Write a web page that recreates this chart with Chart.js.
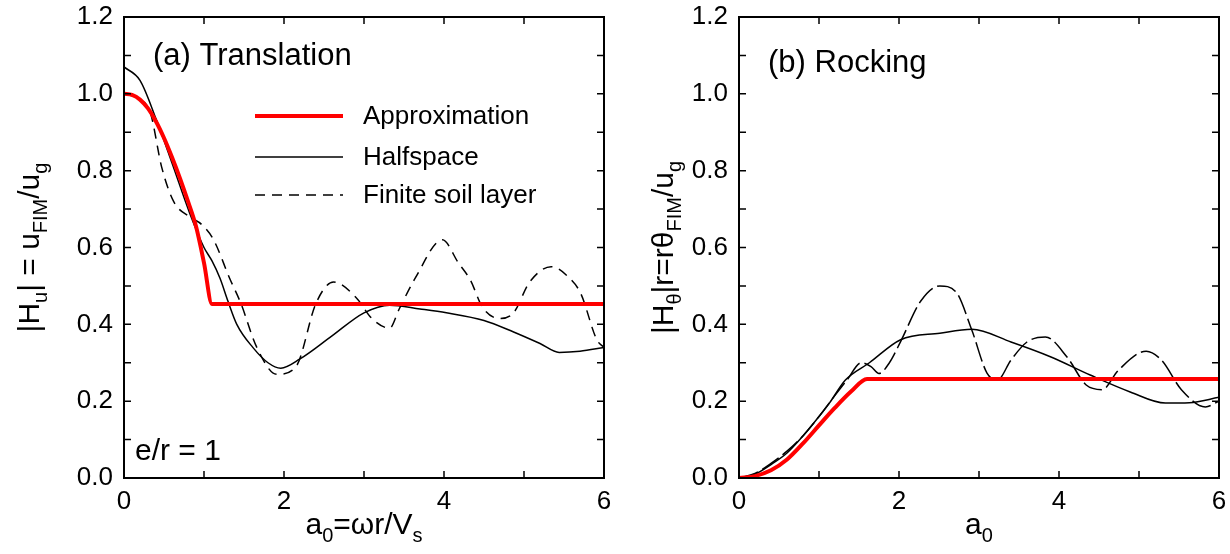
<!DOCTYPE html>
<html lang="en">
  <head>
    <meta charset="UTF-8" />
    <title>Foundation input motion transfer functions</title>
    <script src="https://cdn.jsdelivr.net/npm/chart.js"></script>
    <style>
      body { margin: 0; background: #fff; }
      .panel { position: absolute; top: 0; width: 615px; height: 554px; }
    </style>
  </head>
  <body>
    <div class="panel" style="left:0"><canvas id="transChart" width="615" height="554"></canvas></div>
    <div class="panel" style="left:615px"><canvas id="rockChart" width="615" height="554"></canvas></div>

    <script>
      // -------- data -------- //
      const xTicks = [0, 2, 4, 6];
      const yTicks = [0, 0.2, 0.4, 0.6, 0.8, 1.0, 1.2];
      const seriesNames = ["Approximation", "Halfspace", "Finite soil layer"];

      // (a) translation
      const transApproxX = [0, 0.1, 0.2, 0.3, 0.4, 0.5, 0.6, 0.7, 0.8, 0.9, 1.0, 1.1, 6];
      const transApproxY = [1.0, 0.997, 0.985, 0.962, 0.928, 0.885, 0.835, 0.78, 0.72, 0.655, 0.56, 0.453, 0.453];
      const transHalfX = [0, 0.2, 0.4, 0.6, 0.82, 1.0, 1.1, 1.2, 1.3, 1.41, 1.61, 1.8, 1.96, 2.2, 2.6, 3.0, 3.32, 3.7, 4.03, 4.5, 4.87, 5.2, 5.44, 5.7, 6];
      const transHalfY = [1.07, 1.035, 0.935, 0.82, 0.69, 0.6, 0.565, 0.52, 0.46, 0.4, 0.34, 0.3, 0.286, 0.31, 0.37, 0.43, 0.45, 0.44, 0.43, 0.41, 0.38, 0.35, 0.327, 0.33, 0.34];
      const transFiniteX = [0, 0.15, 0.33, 0.47, 0.62, 0.82, 0.97, 1.12, 1.32, 1.46, 1.66, 1.91, 2.15, 2.4, 2.62, 2.9, 3.1, 3.32, 3.44, 3.64, 3.98, 4.18, 4.33, 4.48, 4.7, 4.87, 5.07, 5.34, 5.57, 5.71, 5.91, 6];
      const transFiniteY = [1.0, 0.99, 0.95, 0.81, 0.72, 0.68, 0.66, 0.62, 0.52, 0.455, 0.34, 0.27, 0.29, 0.455, 0.51, 0.47, 0.415, 0.39, 0.44, 0.52, 0.62, 0.56, 0.515, 0.445, 0.415, 0.43, 0.51, 0.55, 0.52, 0.48, 0.36, 0.34];

      // (b) rocking
      const rockApproxX = [0, 0.2, 0.4, 0.6, 0.8, 1.0, 1.2, 1.4, 1.6, 6];
      const rockApproxY = [0, 0.005, 0.02, 0.048, 0.09, 0.137, 0.183, 0.225, 0.258, 0.258];
      const rockHalfX = [0, 0.2, 0.4, 0.6, 0.79, 1.0, 1.13, 1.33, 1.63, 2.02, 2.51, 2.91, 3.4, 3.9, 4.39, 4.89, 5.33, 5.63, 6];
      const rockHalfY = [0, 0.01, 0.035, 0.065, 0.107, 0.16, 0.195, 0.255, 0.3, 0.36, 0.377, 0.387, 0.354, 0.315, 0.268, 0.224, 0.195, 0.196, 0.21];
      const rockFiniteX = [0, 0.2, 0.4, 0.6, 0.8, 1.0, 1.2, 1.35, 1.53, 1.65, 1.75, 1.88, 2.02, 2.27, 2.51, 2.71, 2.91, 3.1, 3.23, 3.4, 3.6, 3.83, 4.1, 4.34, 4.54, 4.74, 5.09, 5.28, 5.53, 5.83, 6];
      const rockFiniteY = [0, 0.012, 0.038, 0.07, 0.11, 0.16, 0.215, 0.255, 0.3, 0.29, 0.272, 0.3, 0.355, 0.46, 0.5, 0.485, 0.385, 0.273, 0.255, 0.307, 0.354, 0.367, 0.315, 0.242, 0.23, 0.28, 0.33, 0.307, 0.23, 0.185, 0.2];

      const FONT = "'Liberation Sans', Arial, sans-serif";
      Chart.defaults.font.family = FONT;
      Chart.defaults.color = "#000";

      const pts = (xs, ys) => xs.map((x, i) => ({ x, y: ys[i] }));

      // rich text with subscripts: parts = [[text, isSub], ...]
      function richWidth(ctx, parts) {
        let w = 0;
        parts.forEach(([t, sub]) => {
          ctx.font = (sub ? 20 : 30) + "px " + FONT;
          w += ctx.measureText(t).width;
        });
        return w;
      }
      function drawRich(ctx, parts, x, y) {
        let cx = x;
        parts.forEach(([t, sub]) => {
          ctx.font = (sub ? 20 : 30) + "px " + FONT;
          ctx.fillText(t, cx, sub ? y + 8 : y);
          cx += ctx.measureText(t).width;
        });
      }

      // frame, inward ticks, labels and legend
      const decor = {
        id: "decor",
        afterDatasetsDraw(chart, args, o) {
          const { ctx, chartArea: a, scales } = chart;
          ctx.save();
          ctx.strokeStyle = "#000";
          ctx.fillStyle = "#000";
          ctx.lineWidth = 1.5;
          ctx.setLineDash([]);
          for (let v = 0; v <= 6; v++) {
            const px = scales.x.getPixelForValue(v);
            ctx.beginPath();
            ctx.moveTo(px, a.bottom); ctx.lineTo(px, a.bottom - 7);
            ctx.moveTo(px, a.top); ctx.lineTo(px, a.top + 7);
            ctx.stroke();
          }
          for (let i = 0; i <= 12; i++) {
            const py = scales.y.getPixelForValue(i / 10);
            ctx.beginPath();
            ctx.moveTo(a.left, py); ctx.lineTo(a.left + 7, py);
            ctx.moveTo(a.right, py); ctx.lineTo(a.right - 7, py);
            ctx.stroke();
          }
          ctx.lineWidth = 2;
          ctx.strokeRect(a.left, a.top, a.right - a.left, a.bottom - a.top);

          ctx.textBaseline = "alphabetic";
          ctx.textAlign = "left";
          ctx.font = "31px " + FONT;
          ctx.fillText(o.title, 153, o.titleY);
          ctx.font = "30px " + FONT;
          if (o.note) ctx.fillText(o.note, 135, 460);

          // axis titles
          const xw = richWidth(ctx, o.xTitle);
          drawRich(ctx, o.xTitle, (a.left + a.right) / 2 - xw / 2, 534);
          const yw = richWidth(ctx, o.yTitle);
          ctx.translate(o.yTitleX, (a.top + a.bottom) / 2);
          ctx.rotate(-Math.PI / 2);
          drawRich(ctx, o.yTitle, -yw / 2, 0);
          ctx.restore();

          if (o.legend) {
            ctx.save();
            ctx.font = "26px " + FONT;
            ctx.textBaseline = "middle";
            const rows = [116, 157, 195];
            chart.data.datasets.forEach((ds, i) => {
              ctx.strokeStyle = ds.borderColor;
              ctx.lineWidth = ds.borderWidth;
              ctx.setLineDash(ds.borderDash || []);
              ctx.beginPath();
              ctx.moveTo(255, rows[i]); ctx.lineTo(343, rows[i]);
              ctx.stroke();
              ctx.fillStyle = "#000";
              ctx.fillText(ds.label, 363, rows[i] + 1);
            });
            ctx.restore();
          }
        },
      };

      function makePanel(id, series, dash, opts) {
        const datasets = [
          { label: seriesNames[0], data: series[0], borderColor: "#ff0000", borderWidth: 4 },
          { label: seriesNames[1], data: series[1], borderColor: "#000", borderWidth: 1.5 },
          { label: seriesNames[2], data: series[2], borderColor: "#000", borderWidth: 1.5, borderDash: dash },
        ].map((d) => ({ ...d, pointRadius: 0, fill: false, cubicInterpolationMode: "monotone" }));

        return new Chart(document.getElementById(id), {
          type: "line",
          data: { datasets },
          plugins: [decor],
          options: {
            responsive: false,
            animation: false,
            events: [],
            layout: { padding: { top: 17, right: 11, left: 0, bottom: 0 } },
            plugins: { legend: { display: false }, tooltip: { enabled: false }, decor: opts },
            scales: {
              x: {
                type: "linear",
                min: 0,
                max: 6,
                grid: { display: false, drawTicks: false },
                border: { display: false },
                afterBuildTicks: (s) => { s.ticks = xTicks.map((v) => ({ value: v })); },
                ticks: { font: { size: 26 }, padding: 8, maxRotation: 0 },
                afterFit: (s) => { s.height = 76; s.paddingLeft = 0; s.paddingRight = 0; },
              },
              y: {
                type: "linear",
                min: 0,
                max: 1.2,
                grid: { display: false, drawTicks: false },
                border: { display: false },
                afterBuildTicks: (s) => { s.ticks = yTicks.map((v) => ({ value: v })); },
                ticks: { font: { size: 26 }, padding: 11, callback: (v) => v.toFixed(1) },
                afterFit: (s) => { s.width = 124; s.paddingTop = 0; s.paddingBottom = 0; },
              },
            },
          },
        });
      }

      makePanel(
        "transChart",
        [pts(transApproxX, transApproxY), pts(transHalfX, transHalfY), pts(transFiniteX, transFiniteY)],
        [10, 7],
        {
          title: "(a) Translation",
          titleY: 65,
          note: "e/r = 1",
          legend: true,
          yTitleX: 39,
          xTitle: [["a", 0], ["0", 1], ["=ωr/V", 0], ["s", 1]],
          yTitle: [["|H", 0], ["u", 1], ["| = u", 0], ["FIM", 1], ["/u", 0], ["g", 1]],
        }
      );

      makePanel(
        "rockChart",
        [pts(rockApproxX, rockApproxY), pts(rockHalfX, rockHalfY), pts(rockFiniteX, rockFiniteY)],
        [20, 5],
        {
          title: "(b) Rocking",
          titleY: 72,
          legend: false,
          yTitleX: 58,
          xTitle: [["a", 0], ["0", 1]],
          yTitle: [["|H", 0], ["θ", 1], ["|r=rθ", 0], ["FIM", 1], ["/u", 0], ["g", 1]],
        }
      );
    </script>
  </body>
</html>
